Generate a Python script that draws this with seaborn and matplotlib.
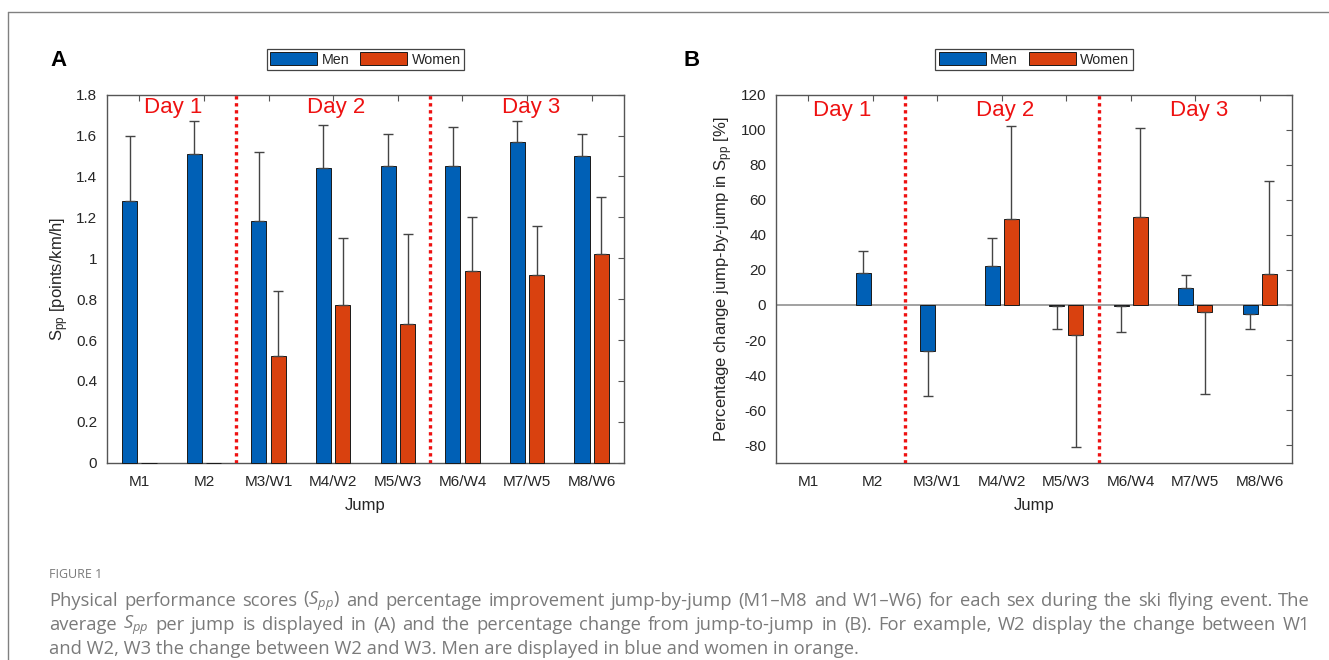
import numpy as np
import pandas as pd
import matplotlib
matplotlib.use("Agg")
import matplotlib.pyplot as plt
import seaborn as sns
from matplotlib.lines import Line2D

nan = np.nan
jumps = ["M1", "M2", "M3/W1", "M4/W2", "M5/W3", "M6/W4", "M7/W5", "M8/W6"]
sexes = ["Men", "Women"]

# Panel A: mean S_pp and upper end of the error bar
spp_men = [1.28, 1.51, 1.18, 1.44, 1.45, 1.45, 1.57, 1.50]
spp_men_err_end = [1.60, 1.67, 1.52, 1.65, 1.61, 1.64, 1.67, 1.61]
spp_women = [0.0, 0.0, 0.52, 0.77, 0.68, 0.94, 0.92, 1.02]
spp_women_err_end = [nan, nan, 0.84, 1.10, 1.12, 1.20, 1.16, 1.30]

# Panel B: percentage change and end of the (one-sided) error bar
chg_men = [nan, 18.0, -26.0, 22.0, -0.8, -0.4, 9.7, -5.3]
chg_men_err_end = [nan, 30.7, -52.0, 38.5, -13.5, -15.4, 17.3, -13.9]
chg_women = [nan, nan, nan, 49.3, -17.3, 50.3, -4.2, 17.5]
chg_women_err_end = [nan, nan, nan, 102.3, -81.2, 101.0, -51.0, 71.0]

day_labels = ["Day 1", "Day 2", "Day 3"]
day_label_x = [0.53, 3.05, 6.06]
day_bounds = [1.5, 4.5]

colors = {"Men": "#0060B6", "Women": "#D9410F"}

sns.set_theme(style="white")
plt.rcParams["font.family"] = ["Liberation Sans", "DejaVu Sans"]
plt.rcParams["mathtext.fontset"] = "custom"
plt.rcParams["mathtext.rm"] = "Liberation Sans"
plt.rcParams["mathtext.it"] = "Open Sans:italic"

W, H = 1329, 660
fig = plt.figure(figsize=(W / 100, H / 100), dpi=100)
fig.patch.set_facecolor("white")

def px_axes(l, t, r, b):
    return fig.add_axes([l / W, 1 - b / H, (r - l) / W, (b - t) / H])

axA = px_axes(107, 94.7, 624, 462.7)
axB = px_axes(776, 94.7, 1292, 462.7)

def long_df(men, women):
    return pd.DataFrame({
        "Jump": jumps * 2,
        "Sex": ["Men"] * len(jumps) + ["Women"] * len(jumps),
        "value": list(men) + list(women),
    })

dfA = long_df(spp_men, spp_women)
dfB = long_df(chg_men, chg_women)

axis_col = "#555555"
text_col = "#262626"

def draw_panel(ax, df, men, men_end, women, women_end, ylim, yticks, ytl, ylabel, day_y, zero_line):
    if zero_line:
        ax.axhline(0, color="#9a9a9a", lw=1.3, zorder=1)
    sns.barplot(data=df, x="Jump", y="value", hue="Sex", order=jumps, hue_order=sexes,
                palette=colors, width=0.6, gap=0.22, errorbar=None, ax=ax,
                edgecolor="#1a1a1a", linewidth=0.7, saturation=1, zorder=2)
    for p in ax.patches:
        p.set_clip_on(False)
    # one-sided error bars
    for vals, ends, off in [(men, men_end, -0.15), (women, women_end, 0.15)]:
        v = np.array(vals, dtype=float)
        e = np.array(ends, dtype=float)
        x = np.arange(len(jumps)) + off
        m = ~np.isnan(e) & ~np.isnan(v)
        lower = np.where(e < v, v - e, 0.0)
        upper = np.where(e > v, e - v, 0.0)
        ax.errorbar(x[m], v[m], yerr=[lower[m], upper[m]], fmt="none",
                    ecolor="#444444", elinewidth=1.0, capsize=3.6, capthick=1.0, zorder=3)
    for xb in day_bounds:
        ax.axvline(xb, color="#ee1111", lw=2.4, ls=(0, (1, 1.1)), zorder=4)
    for lbl, xl in zip(day_labels, day_label_x):
        ax.text(xl, day_y, lbl, color="#ee1111", fontsize=16, ha="center", va="center", zorder=5)
    ax.set_xlim(-0.5, 7.5)
    ax.set_ylim(*ylim)
    ax.set_yticks(yticks)
    ax.set_yticklabels(ytl)
    ax.set_xticks(range(len(jumps)))
    ax.set_xticklabels(jumps)
    ax.tick_params(direction="in", length=4.5, width=0.8, color=axis_col, top=True, right=True,
                   labelsize=11, labelcolor=text_col, pad=7)
    ax.tick_params(axis="x", pad=9)
    for s in ax.spines.values():
        s.set_visible(True)
        s.set_color(axis_col)
        s.set_linewidth(1.0)
        s.set_zorder(1.5)
    ax.set_xlabel("Jump", fontsize=12, color=text_col, labelpad=6)
    ax.set_ylabel(ylabel, fontsize=12, color=text_col, labelpad=4)
    sns.move_legend(ax, "center", bbox_to_anchor=(0.5, 1.0957), ncol=2, title=None,
                    frameon=True, fancybox=False, fontsize=10.3, handlelength=3.3,
                    handleheight=0.95, handletextpad=0.3, columnspacing=0.75,
                    borderpad=0.25, edgecolor="#444444", framealpha=1)
    leg = ax.get_legend()
    leg.get_frame().set_linewidth(0.9)
    for t in leg.get_texts():
        t.set_color(text_col)

draw_panel(axA, dfA, spp_men, spp_men_err_end, spp_women, spp_women_err_end,
           (0, 1.8), np.arange(0, 1.81, 0.2),
           ["0", "0.2", "0.4", "0.6", "0.8", "1", "1.2", "1.4", "1.6", "1.8"],
           r"S$_{\mathrm{pp}}$ [points/km/h]", 1.737, False)
draw_panel(axB, dfB, chg_men, chg_men_err_end, chg_women, chg_women_err_end,
           (-90, 120), np.arange(-80, 121, 20),
           [str(v) for v in range(-80, 121, 20)],
           r"Percentage change jump-by-jump in S$_{\mathrm{pp}}$ [%]", 111, True)

# panel letters
fig.text(58 / W, 1 - 60 / H, "A", fontsize=16, fontweight="bold", ha="center", va="center", color="black")
fig.text(692 / W, 1 - 60 / H, "B", fontsize=16, fontweight="bold", ha="center", va="center", color="black")

# page frame lines
fig.add_artist(Line2D([7.5 / W, 1], [1 - 12 / H, 1 - 12 / H], color="#808080", lw=1.0, transform=fig.transFigure))
fig.add_artist(Line2D([7.5 / W, 7.5 / W], [1 - 12 / H, 0], color="#808080", lw=1.0, transform=fig.transFigure))

# caption
cap_col = "#7a7a7a"
cap_font = ["Open Sans", "DejaVu Sans"]
cap_size = 13.2
fig.text(49 / W, 1 - 574 / H, "FIGURE 1", fontsize=9, color=cap_col, family=cap_font, ha="left", va="center")
cap_lines = [
    r"Physical performance scores ($\mathit{S_{pp}}$) and percentage improvement jump-by-jump (M1–M8 and W1–W6) for each sex during the ski flying event. The",
    r"average $\mathit{S_{pp}}$ per jump is displayed in (A) and the percentage change from jump-to-jump in (B). For example, W2 display the change between W1",
    "and W2, W3 the change between W2 and W3. Men are displayed in blue and women in orange.",
]
cap_y = [601, 625, 649]
renderer = fig.canvas.get_renderer()
x0, x1 = 49, 1310
for i, (line, yy) in enumerate(zip(cap_lines, cap_y)):
    if i < 2:
        words = line.split(" ")
        objs = [fig.text(0, 1 - yy / H, w, fontsize=cap_size, color=cap_col, family=cap_font,
                         ha="left", va="center") for w in words]
        widths = [o.get_window_extent(renderer).width for o in objs]
        gap = (x1 - x0 - sum(widths)) / (len(words) - 1)
        xx = x0
        for o, wd in zip(objs, widths):
            o.set_x(xx / W)
            xx += wd + gap
    else:
        fig.text(x0 / W, 1 - yy / H, line, fontsize=cap_size, color=cap_col, family=cap_font,
                 ha="left", va="center")

fig.savefig("out.png", dpi=100, facecolor="white")
